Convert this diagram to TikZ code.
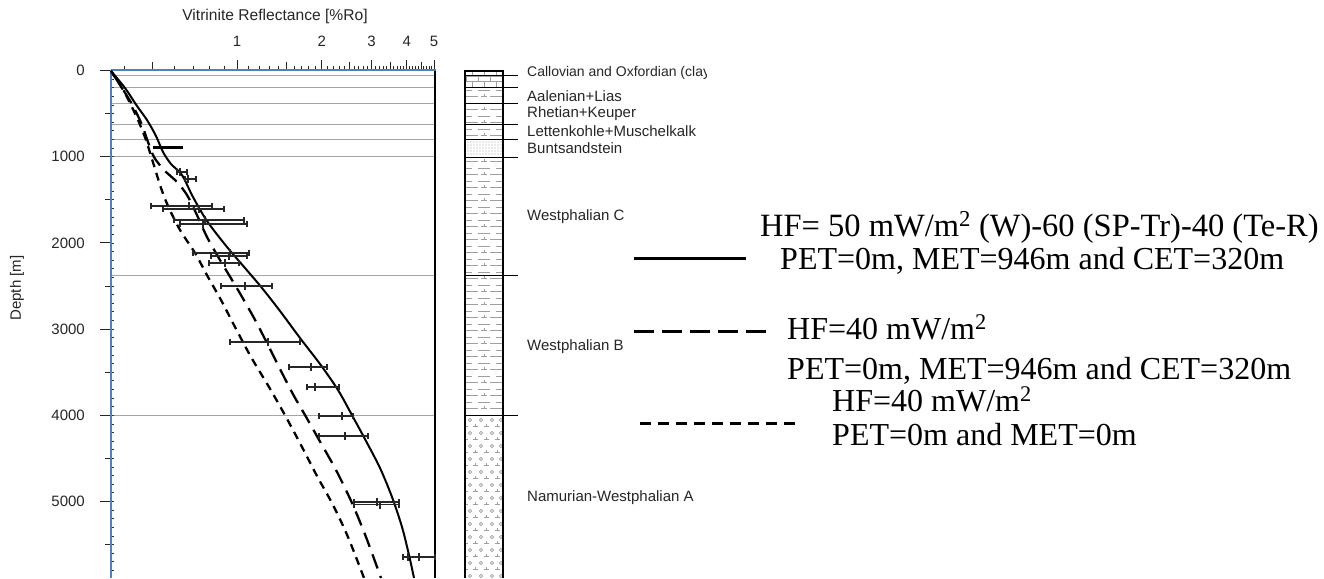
\documentclass[tikz,border=0pt]{standalone}
\usepackage{fontspec}
\setmainfont{Liberation Serif}
\newfontfamily\arialf{Liberation Sans}
\definecolor{axblue}{RGB}{79,129,189}
\newcommand\ebarr[4]{%
  \draw[ebar] (#2,#1) -- (#3,#1);
  \draw[ebar] (#2,{#1-3}) -- (#2,{#1+3});
  \draw[ebar] (#3,{#1-3}) -- (#3,{#1+3});
  \draw[ebar] (#4,{#1-4}) -- (#4,{#1+4});}
\begin{document}
\begin{tikzpicture}[x=1pt,y=-1pt,
  axlab/.style={font=\arialf\fontsize{15}{18}\selectfont, inner sep=0pt, text=black!85},
  fmlab/.style={font=\arialf\fontsize{15}{18}\selectfont, inner sep=0pt, text=black!85, anchor=west},
  leg/.style={font=\fontsize{32}{38}\selectfont, inner sep=0pt, anchor=base west},
  hline/.style={gray!70, line width=1pt},
  ebar/.style={line width=1.1pt, black!85},
  axtick/.style={line width=1pt, black!85},
  pat/.style={gray!75, line width=0.7pt},
  bnd/.style={black, line width=0.9pt},
  solidc/.style={line width=2pt, black},
  longd/.style={line width=2.3pt, black, dash pattern=on 15pt off 8pt},
  shortd/.style={line width=2.3pt, black, dash pattern=on 8pt off 6pt}]
\fill[white] (0,0) rectangle (1324,578);
\useasboundingbox (0,0) rectangle (1324,578);

% ---------- top axis ----------
\node[axlab, font=\arialf\fontsize{15.6}{18}\selectfont] (xtitle) at (275,16) {Vitrinite Reflectance [\%Ro]};
\foreach \r/\nm in {1/a,2/b,3/c,4/d,5/e} {
  \pgfmathsetmacro\xx{237+282*log10(\r)}
  \node[axlab] (xl\nm) at (\xx,41) {\r};
  \draw[axtick] (\xx,69) -- (\xx,60);}
\foreach \r in {0.5,1.5,2.5,3.5,4.5} {
  \pgfmathsetmacro\xx{237+282*log10(\r)}
  \draw[axtick] (\xx,69) -- (\xx,62);}
\foreach \r in {0.4,0.6,0.7,0.8,0.9} {
  \pgfmathsetmacro\xx{237+282*log10(\r)}
  \draw[axtick] (\xx,69) -- (\xx,65.5);}
\foreach \a in {1,2,3,4} \foreach \b in {1,2,3,4,6,7,8,9} {
  \pgfmathsetmacro\xx{237+282*log10(\a+\b/10)}
  \draw[axtick] (\xx,69) -- (\xx,65.5);}

% ---------- grid lines ----------
\foreach \yy in {75,87,103,124,139,156.7,275,415.3}
  \draw[hline] (111,\yy) -- (435,\yy);
\draw[black, line width=1.2pt] (435,69) -- (435,578);

% ---------- depth axis ----------
\foreach \d/\lab in {0/0,1/1000,2/2000,3/3000,4/4000,5/5000} {
  \pgfmathsetmacro\yy{70.5+86.2*\d}
  \node[axlab, anchor=east] (dl\d) at (85,\yy) {\lab};
  \draw[axtick] (100,\yy) -- (111,\yy);
  \pgfmathsetmacro\yh{70.5+86.2*(\d+0.5)}
  \draw[axtick] (105,\yh) -- (111,\yh);}
\foreach \k in {1,...,59} {
  \pgfmathsetmacro\yy{70.5+8.62*\k}
  \draw[black!80, line width=0.8pt] (112,\yy) -- (114,\yy);}
\draw[axblue, line width=2pt] (111,69.5) -- (436,69.5);
\draw[axblue, line width=2pt] (111,69.5) -- (111,578);
\node[axlab, rotate=90] (ytitle) at (17,288) {Depth [m]};

% ---------- model curves ----------
\draw[solidc] plot[smooth] coordinates {(111,71) (125,88) (137,106) (147,120) (156,136) (163,152) (171,164) (182,175) (193,197) (207,221) (227,247) (245,268) (262,288) (280,311) (300,338) (320,364) (338,390) (353,417) (366,441) (380,468) (392,497) (402,527) (409,555) (414,578)};
\draw[longd] plot[smooth] coordinates {(111,71) (122,88) (133,106) (142,125) (148,142) (154,157) (164,170) (177,182) (187,195) (196,213) (207,237) (220,260) (238,290) (254,318) (267,343) (281,371) (294,396) (305,415) (318,438) (336,470) (352,503) (366,537) (381,578)};
\draw[shortd] plot[smooth] coordinates {(111,71) (120,85) (127,97) (138,120) (146,140) (151,156) (156,172) (161,188) (168,206) (180,230) (195,253) (208,277) (221,300) (235,327) (251,357) (269,387) (286,417) (302,447) (317,476) (333,505) (348,537) (364,578)};

% ---------- measured data ----------
\draw[black, line width=3pt] (153,147) -- (183,147);
\ebarr{172}{177}{187}{180}
\ebarr{179}{185}{196}{188}
\ebarr{206}{151}{212}{189}
\ebarr{209}{163}{224}{199}
\ebarr{220}{174}{244}{205}
\ebarr{224}{180}{247}{203}
\ebarr{253}{193}{249}{230}
\ebarr{256}{211}{247}{229}
\ebarr{263}{209}{239}{225}
\ebarr{286}{221}{272}{245}
\ebarr{342}{230}{300}{268}
\ebarr{367}{289}{327}{311}
\ebarr{387}{307}{339}{315}
\ebarr{416}{319}{353}{342}
\draw[black, line width=2.2pt] (319,436) -- (368,436);
\ebarr{436}{319}{368}{345}
\ebarr{502}{354}{399}{377}
\ebarr{504.5}{354}{399}{380}
\ebarr{557}{403}{435}{419}
\draw[ebar] (408,553) -- (408,561);

% ---------- lithology column ----------
\begin{scope}
\clip (465.5,71) rectangle (502.5,578);
% shale everywhere
\foreach \yy in {90,103,...,412} {
  \draw[pat] (466,\yy) -- (472,\yy) (478,\yy) -- (490,\yy) (496,\yy) -- (503,\yy);}
\foreach \yy in {96.5,109.5,...,412} {
  \draw[pat] (466,\yy) -- (478,\yy) (490,\yy) -- (503,\yy);
  \draw[pat] (481,\yy) -- (487,\yy) (484,\yy) -- (484,{\yy-3});}
% limestone
\fill[white] (465,71) rectangle (503,87);
\foreach \yy in {76,81} \draw[pat] (465,\yy) -- (503,\yy);
\foreach \xx in {472,484,496} \draw[pat] (\xx,71) -- (\xx,76) (\xx,81) -- (\xx,87);
\foreach \xx in {466,478,490,502} \draw[pat] (\xx,76) -- (\xx,81);
% sandstone
\fill[white] (465,139) rectangle (503,157);
\foreach \yy in {142,145,...,155} \foreach \xx in {468,471,...,501}
  \fill[gray!70] (\xx,\yy) circle (0.55);
% Namurian
\fill[white] (465,415) rectangle (503,578);
\foreach \yy in {420,433,...,578} {
  \foreach \xx in {470,481,492,501} \draw[pat] (\xx,\yy) circle (1.7);}
\foreach \yy in {426.5,439.5,...,578} {
  \foreach \xx in {475,486,497} \draw[pat] ({\xx-2.5},\yy) -- ({\xx+2.5},\yy) (\xx,\yy) -- (\xx,{\yy-3});
  \draw[pat] (466,\yy) -- (468,\yy);}
\end{scope}
\draw[black, line width=1.2pt] (465,578) -- (465,71) -- (503,71) -- (503,578);
\foreach \yy in {75,87,103,124,139,157,275,415} \draw[bnd] (465,\yy) -- (518,\yy);

% ---------- formation labels ----------
\begin{scope}
\clip (520,60) rectangle (706,86);
\node[fmlab, font=\arialf\fontsize{14}{17}\selectfont] (f1) at (527,73) {Callovian and Oxfordian (clay};
\end{scope}
\node[fmlab] (f2) at (527,96) {Aalenian+Lias};
\node[fmlab] (f3) at (527,114) {Rhetian+Keuper};
\node[fmlab] (f4) at (527,131) {Lettenkohle+Muschelkalk};
\node[fmlab] (f5) at (527,148) {Buntsandstein};
\node[fmlab] (f6) at (527,217) {Westphalian C};
\node[fmlab] (f7) at (527,347) {Westphalian B};
\node[fmlab] (f8) at (527,498) {Namurian-Westphalian A};

% ---------- legend ----------
\coordinate (ls1) at (634,258); \coordinate (le1) at (746,258);
\coordinate (ls2) at (634,331); \coordinate (le2) at (766,331);
\coordinate (ls3) at (640,423); \coordinate (le3) at (795,423);
\draw[line width=3pt] (ls1) -- (le1);
\draw[line width=3pt, dash pattern=on 20pt off 8pt] (ls2) -- (le2);
\draw[line width=3pt, dash pattern=on 11pt off 7pt] (ls3) -- (le3);
\node[leg, font=\fontsize{32.5}{38}\selectfont] (t1) at (760,236) {HF= 50 mW/m\textsuperscript{2} (W)-60 (SP-Tr)-40 (Te-R)};
\node[leg] (t2) at (780,269) {PET=0m, MET=946m and CET=320m};
\node[leg] (t3) at (787,339) {HF=40 mW/m\textsuperscript{2}};
\node[leg] (t4) at (787,379) {PET=0m, MET=946m and CET=320m};
\node[leg] (t5) at (832,411) {HF=40 mW/m\textsuperscript{2}};
\node[leg] (t6) at (832,445) {PET=0m and MET=0m};
\end{tikzpicture}
\end{document}
